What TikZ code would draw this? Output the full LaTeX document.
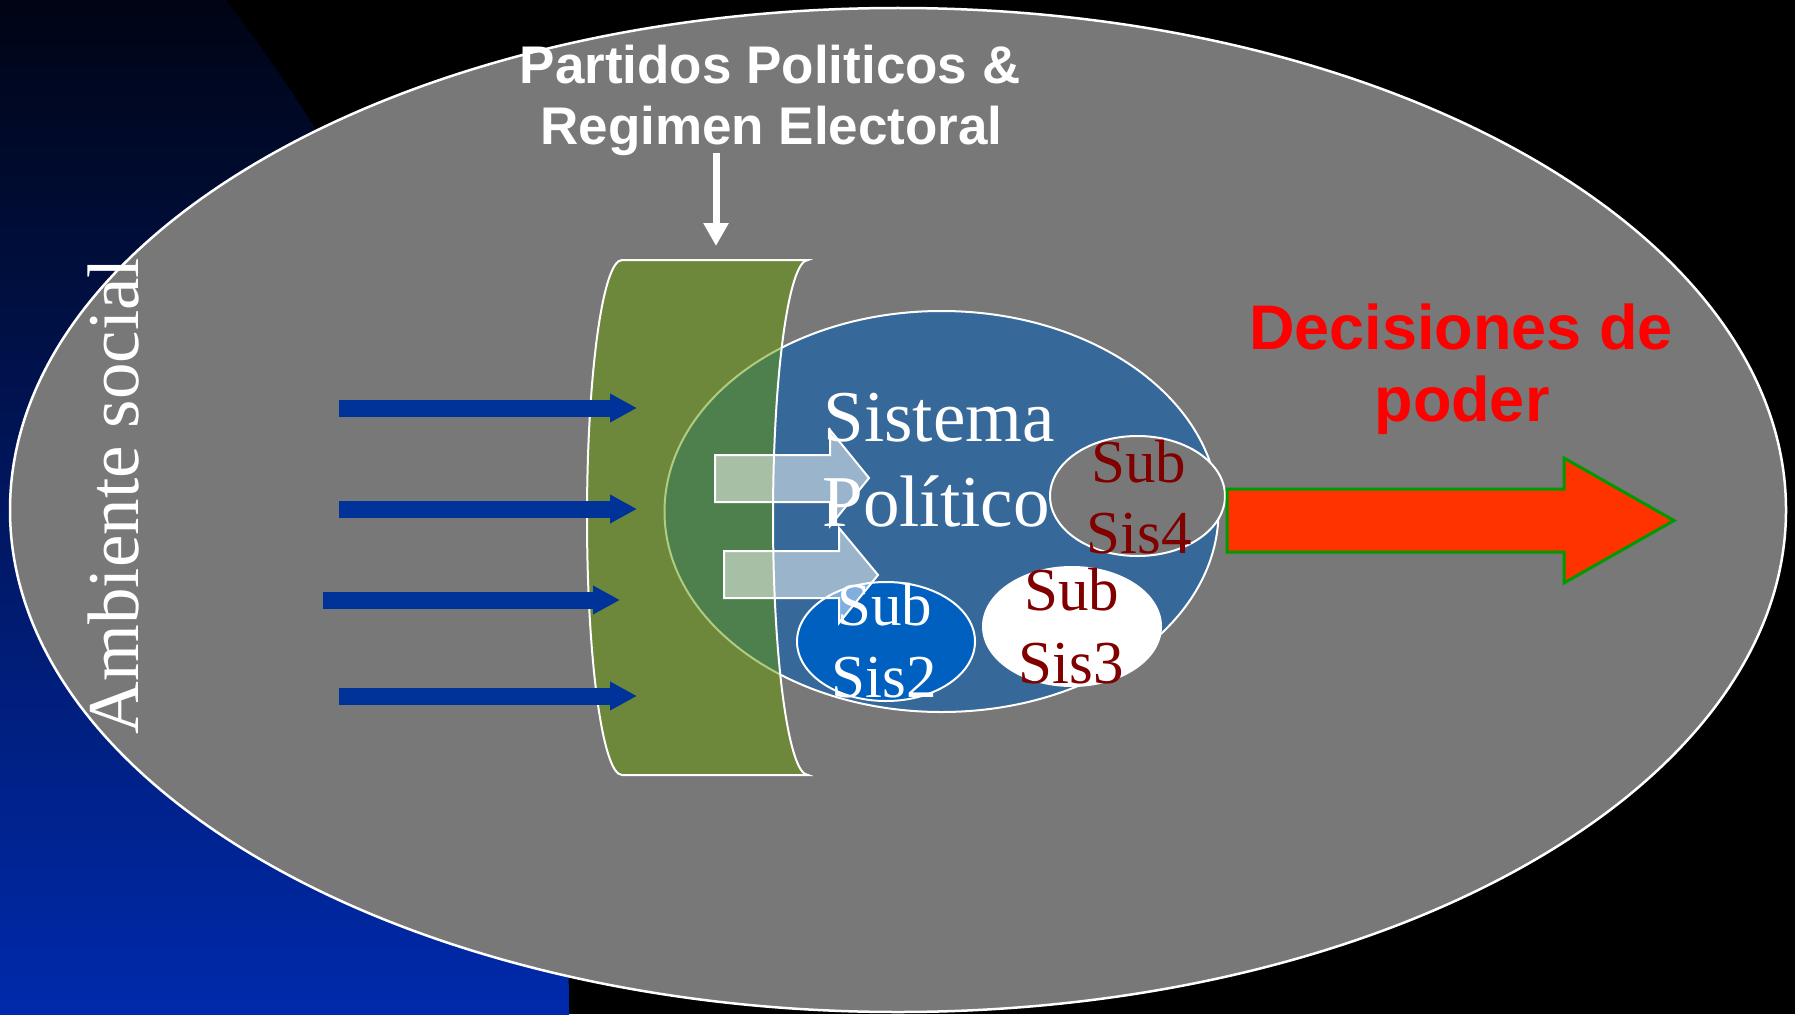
\documentclass[tikz,border=0pt]{standalone}
\usepackage{fontspec}
\setmainfont{Liberation Serif}
\setsansfont{Liberation Sans}
\usetikzlibrary{arrows.meta}
\definecolor{bggray}{RGB}{120,120,120}
\definecolor{gtop}{RGB}{0,4,20}
\definecolor{gbot}{RGB}{0,42,172}
\definecolor{sysblue}{RGB}{54,105,154}
\definecolor{olive}{RGB}{100,152,0}
\definecolor{inblue}{RGB}{0,51,153}
\definecolor{subblue}{RGB}{0,96,192}
\definecolor{maroon}{RGB}{128,0,0}
\definecolor{redarr}{RGB}{255,51,0}
\definecolor{arrgreen}{RGB}{0,153,0}
\tikzset{
  bigserif/.style={font=\fontsize{73}{85}\selectfont, text=white, inner sep=0pt, anchor=base},
  subtxt/.style={font=\fontsize{61}{71}\selectfont, inner sep=0pt, anchor=base},
  titletxt/.style={font=\sffamily\bfseries\fontsize{53}{60}\selectfont, text=white, inner sep=0pt, anchor=base},
  dectxt/.style={font=\sffamily\bfseries\fontsize{63}{72}\selectfont, text=red, inner sep=0pt, anchor=base},
  inarrow/.style={draw=inblue, line width=17pt, -{Triangle[length=27pt,width=27pt]}},
  palearrow/.style={draw=white, line width=2pt, fill=white, fill opacity=0.5},
  thinwhite/.style={draw=white, line width=2pt}
}
\begin{document}
\begin{tikzpicture}[x=1pt,y=-1pt]
\useasboundingbox (0,0) rectangle (1795,1014);
\fill[black] (0,0) rectangle (1795,1014);
% blue gradient on the left
\begin{scope}
  \clip (0,0) rectangle (1795,1014);
  \clip (-1101,1014) circle [radius=1670];
  \shade[top color=gtop, bottom color=gbot] (0,0) rectangle (700,1014);
\end{scope}
% outer ellipse (Ambiente social)
\draw[draw=white, line width=2.5pt, fill=bggray] (898,510) ellipse [x radius=888, y radius=502];
% Sistema politico ellipse
\draw[thinwhite, fill=sysblue] (941.5,511.5) ellipse [x radius=277, y radius=200.5];
% green filter shape (semi-transparent)
\draw[thinwhite, fill=olive, fill opacity=0.5]
  (622,260) -- (808,260)
  .. controls (788.7,260) and (773,375.3) .. (773,517.5)
  .. controls (773,659.7) and (788.7,775) .. (808,775)
  -- (622,775)
  .. controls (602.7,775) and (587,659.7) .. (587,517.5)
  .. controls (587,375.3) and (602.7,260) .. (622,260) -- cycle;
% input arrows
\coordinate (a1s) at (339,408); \coordinate (a1e) at (637,408);
\coordinate (a2s) at (339,509); \coordinate (a2e) at (637,509);
\coordinate (a3s) at (323,600); \coordinate (a3e) at (620,600);
\coordinate (a4s) at (339,696); \coordinate (a4e) at (637,696);
\draw[inarrow] (a1s) -- (a1e);
\draw[inarrow] (a2s) -- (a2e);
\draw[inarrow] (a3s) -- (a3e);
\draw[inarrow] (a4s) -- (a4e);
% sub-system ellipses
\draw[thinwhite, fill=bggray] (1137.5,496) ellipse [x radius=87.5, y radius=60];
\fill[white] (1072,626.5) ellipse [x radius=90, y radius=60.5];
\draw[thinwhite, fill=subblue] (886,641.5) ellipse [x radius=89, y radius=59.5];
% pale block arrows
\draw[palearrow] (715,455) -- (830,455) -- (830,430) -- (869,478) -- (830,526) -- (830,502) -- (715,502) -- cycle;
\draw[palearrow] (724,551) -- (839,551) -- (839,528) -- (878,575) -- (839,623) -- (839,598) -- (724,598) -- cycle;
% output arrow
\draw[fill=redarr, draw=arrgreen, line width=3pt]
  (1227,489) -- (1564,489) -- (1564,458) -- (1674,520.5) -- (1564,583) -- (1564,552) -- (1227,552) -- cycle;
% title and its arrow
\node[titletxt] (t1) at (770,84) {Partidos Politicos \&};
\node[titletxt] (t2) at (771.5,144) {Regimen Electoral};
\coordinate (da1) at (716,153); \coordinate (da2) at (716,246);
\draw[draw=white, line width=7pt, -{Triangle[length=23pt,width=24pt]}] (da1) -- (da2);
% decision text
\node[dectxt] (d1) at (1461,349) {Decisiones de};
\node[dectxt] (d2) at (1462,421) {poder};
% system texts
\node[bigserif] (s1) at (939,441) {Sistema};
\node[bigserif] (s2) at (936,526) {Político};
\node[subtxt, text=maroon] (s4a) at (1139,482) {Sub};
\node[subtxt, text=maroon] (s4b) at (1139.5,553) {Sis4};
\node[subtxt, text=maroon] (s3a) at (1072,610) {Sub};
\node[subtxt, text=maroon] (s3b) at (1071,683) {Sis3};
\node[subtxt, text=white] (s2a) at (885,625) {Sub};
\node[subtxt, text=white] (s2b) at (884.5,697) {Sis2};
% Ambiente social
\node[bigserif, rotate=90] (amb) at (138,496) {Ambiente social};
\end{tikzpicture}
\end{document}
